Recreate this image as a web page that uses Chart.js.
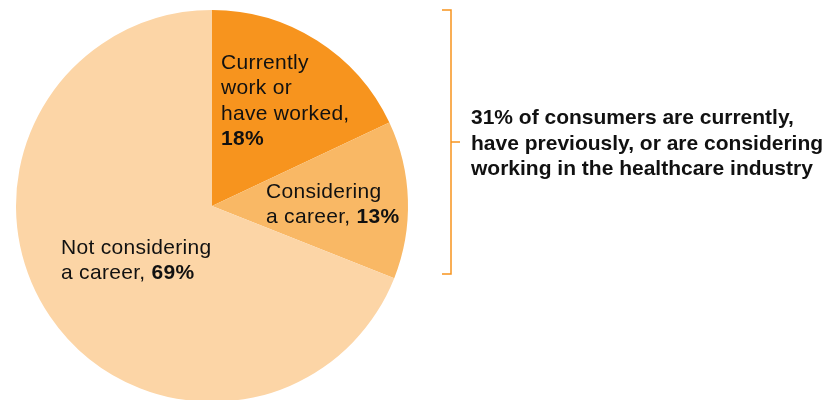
<!DOCTYPE html>
<html>
<head>
<meta charset="utf-8">
<script src="https://cdn.jsdelivr.net/npm/chart.js@4"></script>
<style>
  html, body { margin: 0; padding: 0; background: #fff; overflow: hidden; }
  #wrap { position: relative; width: 832px; height: 410px; }
</style>
</head>
<body>
<div id="wrap"><canvas id="c" width="832" height="410"></canvas></div>
<script>
const categories = ["Currently work or have worked", "Considering a career", "Not considering a career"];
const values = [18, 13, 69];
const colors = ["#F7941E", "#F9B865", "#FCD5A6"];
// label lines: arrays of [text, bold] runs per line
const sliceLabels = [
  [[["Currently", false]], [["work or", false]], [["have worked,", false]], [["18%", true]]],
  [[["Considering", false]], [["a career, ", false], ["13%", true]]],
  [[["Not considering", false]], [["a career, ", false], ["69%", true]]]
];
const annotationLines = [
  "31% of consumers are currently,",
  "have previously, or are considering",
  "working in the healthcare industry"
];

const FONT = "Liberation Sans, Arial, Helvetica, sans-serif";

function drawRuns(ctx, runs, x, y, size) {
  let cx = x;
  for (const [t, b] of runs) {
    ctx.font = (b ? "bold " : "") + size + "px " + FONT;
    ctx.fillText(t, cx, y);
    cx += ctx.measureText(t).width;
  }
}

const overlay = {
  id: "overlay",
  afterDatasetsDraw(chart) {
    const ctx = chart.ctx;
    const arc0 = chart.getDatasetMeta(0).data[0];
    const cx = arc0.x, cy = arc0.y, r = arc0.outerRadius;
    ctx.save();
    ctx.fillStyle = "#111111";
    ctx.textBaseline = "alphabetic";
    ctx.letterSpacing = "0.3px";
    const size = 21;
    const lh = 25.3;
    // label anchors relative to center, in radius fractions
    const anchors = [
      [9 / 196, -137 / 196],
      [54 / 196, -8 / 196],
      [-151 / 196, 48 / 196]
    ];
    sliceLabels.forEach((lines, i) => {
      const x = cx + anchors[i][0] * r;
      const y0 = cy + anchors[i][1] * r;
      lines.forEach((runs, j) => drawRuns(ctx, runs, x, y0 + j * lh, size));
    });
    // bracket
    const bx = cx + 239;
    const top = cy - r, bot = cy + 68;
    ctx.strokeStyle = "#F7941E";
    ctx.lineWidth = 1.5;
    ctx.beginPath();
    ctx.moveTo(bx - 9, top);
    ctx.lineTo(bx, top);
    ctx.lineTo(bx, bot);
    ctx.lineTo(bx - 9, bot);
    ctx.moveTo(bx, (top + bot) / 2);
    ctx.lineTo(bx + 9, (top + bot) / 2);
    ctx.stroke();
    // annotation text
    ctx.letterSpacing = "0px";
    ctx.font = "bold 21px " + FONT;
    const mid = (top + bot) / 2;
    annotationLines.forEach((t, j) => {
      ctx.fillText(t, bx + 20, mid - 18 + j * 25.5);
    });
    ctx.restore();
  }
};

new Chart(document.getElementById("c"), {
  type: "pie",
  data: {
    labels: categories,
    datasets: [{
      data: values,
      backgroundColor: colors,
      borderWidth: 0
    }]
  },
  options: {
    responsive: false,
    animation: false,
    layout: { padding: { left: 16, right: 424, top: 10, bottom: 8 } },
    plugins: { legend: { display: false }, tooltip: { enabled: false } }
  },
  plugins: [overlay]
});
</script>
</body>
</html>
